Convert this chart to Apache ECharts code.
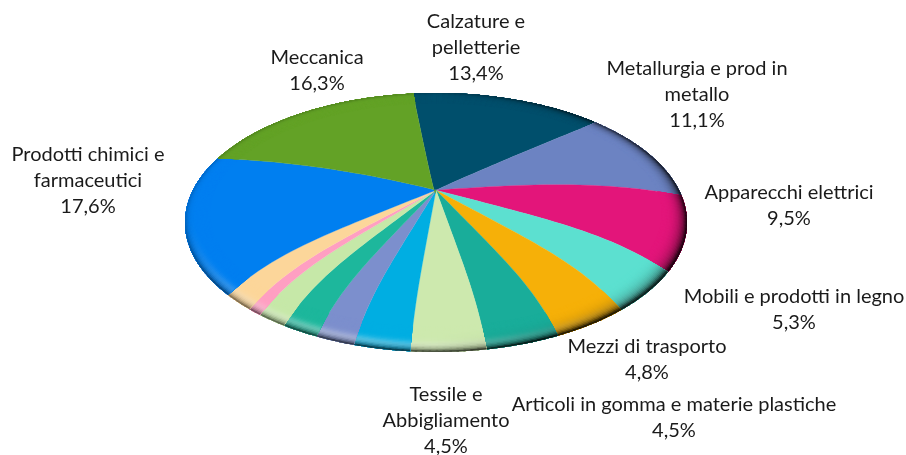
<!DOCTYPE html>
<html><head><meta charset="utf-8">
<style>html,body{margin:0;padding:0;background:#fff}#c{width:906px;height:455px}</style>
<script src="https://cdn.jsdelivr.net/npm/echarts@6/dist/echarts.min.js"></script>
</head><body><div id="c"></div>
<script>
const categories = ["Calzature e\npelletterie","Metallurgia e prod in\nmetallo","Apparecchi elettrici","Mobili e prodotti in legno","Mezzi di trasporto","Articoli in gomma e materie plastiche","Tessile e\nAbbigliamento","","","","","","","Prodotti chimici e\nfarmaceutici","Meccanica"];
const values = [13.4,11.1,9.5,5.3,4.8,4.5,4.5,3.4,2.4,2.3,1.9,0.9,2.1,17.6,16.3];
const valueLabels = ["13,4%","11,1%","9,5%","5,3%","4,8%","4,5%","4,5%","","","","","","","17,6%","16,3%"];
const colors = ["#004f6c","#6c83c2","#e3157a","#5ce0d0","#f6b008","#19ad9a","#cde9ae","#00aee2","#7c8fcd","#1db79c","#c6e8a8","#ff9fc2","#fcd69a","#007ff0","#63a226"];

// layout of the perspective disc (not data)
const cx=436, cy=222.5, rx=251, ry=129.5, P=0.08, APEX=22, START=-5.7;
const anchors=[[476,48],[697,95],[789,206],[794,310],[647,360],[674,418],[446,421],null,null,null,null,null,null,[88,181],[317,71]];
const FONT='Lato';

function proj(r,deg){
  const t=deg*Math.PI/180, c=Math.cos(t), u=r*Math.sin(t), v=r*c;
  const d=1+P*v, X=u*Math.sqrt(1-P*P)/d, Y=(v+P)/d;
  const n=3.3-3*c;
  const shift=APEX*(1-Math.pow(r,n));
  return [cx+rx*X, cy-ry*Y-shift];
}
function hex(c){return [1,3,5].map(i=>parseInt(c.substr(i,2),16));}
function shade(col,deg,t){
  const a=deg*Math.PI/180, s=Math.sin(a), c=Math.cos(a);
  const front=Math.max(0,-c), right=Math.max(0,s), left=Math.max(0,-s);
  const bump=Math.exp(-Math.pow((t-0.78)/0.17,2));
  const L=0.6*front*front*(0.45+0.55*left)*(1-right*0.8)*bump;
  const D=0.7*right*t*t*t+0.6*front*Math.pow(t,9)+0.2*Math.pow(t,9);
  return 'rgb('+hex(col).map(v=>Math.round((v+(255-v)*L)*(1-Math.min(.85,D)))).join(',')+')';
}
const total=values.reduce((a,b)=>a+b,0);
const starts=[]; values.reduce((acc,v,i)=>{starts[i]=acc;return acc+v;},0);
const R0=0.9, RINGS=20;

function renderItem(params,api){
  const i=params.dataIndex, a0=START+starts[i]/total*360, a1=a0+api.value(0)/total*360;
  const kids=[];
  const steps=Math.max(3,Math.ceil((a1-a0)/1.5));
  const Ri=R0+0.02;
  const pts=[];
  for(let k=0;k<=30;k++) pts.push(proj(k/30*Ri,a0));
  for(let k=1;k<=steps;k++) pts.push(proj(Ri,a0+(a1-a0)*k/steps));
  for(let k=29;k>=0;k--) pts.push(proj(k/30*Ri,a1));
  kids.push({type:'polygon',shape:{points:pts},style:{fill:colors[i],stroke:colors[i],lineWidth:0.3}});
  // rim: painted inside-out, each ring reaching to the edge so that no seams show
  for(let j=0;j<RINGS;j++){
    const r0=R0+(1-R0)*j/RINGS;
    for(let k=0;k<steps;k++){
      const b0=a0+(a1-a0)*k/steps,b1=Math.min(a1+0.1,a0+(a1-a0)*(k+1)/steps+0.5),m=a0+(a1-a0)*(k+.5)/steps;
      const f=shade(colors[i],m,(j+0.5)/RINGS);
      kids.push({type:'polygon',shape:{points:[proj(r0,b0),proj(r0,b1),proj(1,b1),proj(1,b0)]},style:{fill:f}});
    }
  }
  if(anchors[i]&&categories[i]){
    kids.push({type:'text',z2:10,x:anchors[i][0],y:anchors[i][1],style:{
      text:categories[i]+'\n'+valueLabels[i],font:'20px '+FONT,fill:'#1a1a1a',align:'center',verticalAlign:'middle',lineHeight:26}});
  }
  return {type:'group',children:kids};
}
const chart=echarts.init(document.getElementById('c'),null,{renderer:'canvas'});
chart.setOption({
  animation:false,backgroundColor:'#fff',
  series:[{type:'custom',coordinateSystem:'none',renderItem,silent:true,
    data:values.map((v,i)=>({name:categories[i],value:[v]}))}]
});
</script></body></html>
